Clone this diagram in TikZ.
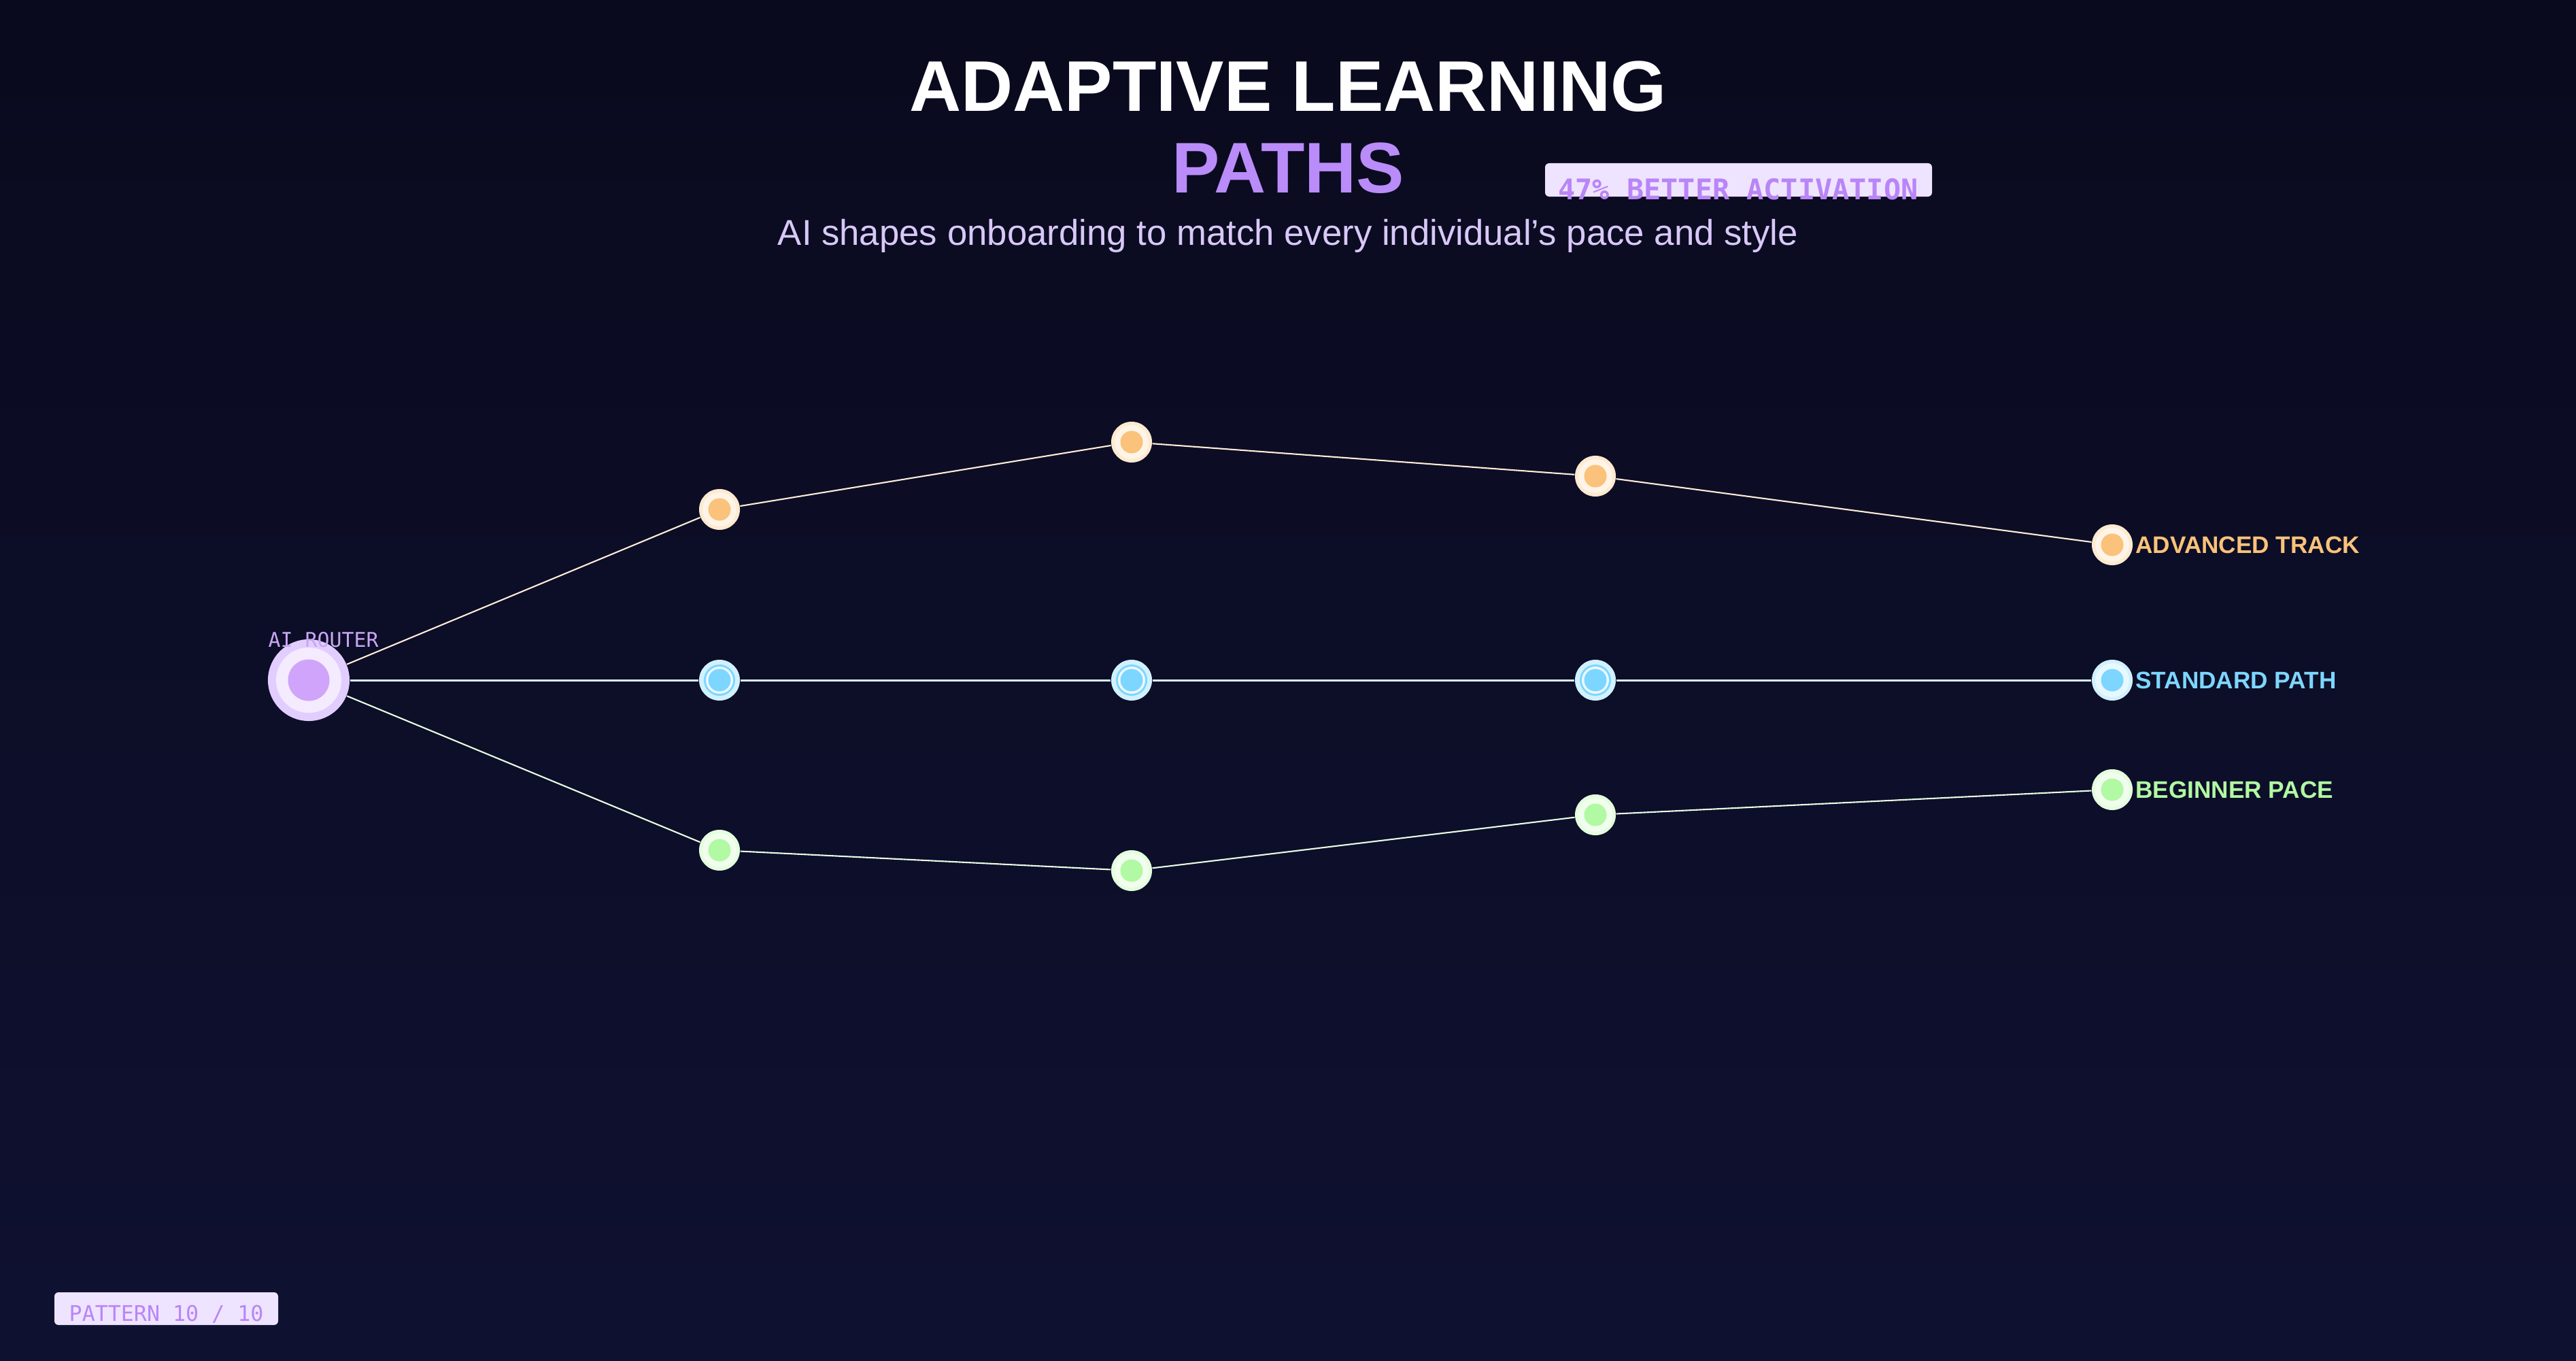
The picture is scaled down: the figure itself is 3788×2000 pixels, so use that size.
\documentclass[tikz,border=0pt]{standalone}
\usepackage{fontspec}
\setmainfont{Liberation Sans}
\newfontfamily\monofont{DejaVu Sans Mono}
\usetikzlibrary{positioning}
\definecolor{nighttop}{HTML}{0A0A1E}
\definecolor{nightbottom}{HTML}{0F1131}
\definecolor{violet}{HTML}{B98CFA}
\definecolor{lilac}{HTML}{D8C8F8}
\definecolor{routerlabel}{HTML}{C8A6F3}
\definecolor{routercore}{HTML}{CFA4FA}
\definecolor{routerring}{HTML}{E2CDFF}
\definecolor{badgefill}{HTML}{EEE4FF}
\definecolor{badgetext}{HTML}{B985F7}
\definecolor{adv}{HTML}{FAC27A}
\definecolor{std}{HTML}{7DD6FF}
\definecolor{beg}{HTML}{B1F9A3}

\begin{document}
\begin{tikzpicture}[x=0.01cm,y=-0.01cm]
	\tikzstyle{stop} = [circle,minimum size=0.6cm,inner sep=0pt,fill=#1!35!white,
		path picture={
			\fill[#1!18!white] (path picture bounding box.center) circle[radius=0.25cm];
			\fill[#1] (path picture bounding box.center) circle[radius=0.165cm];}]
	\tikzstyle{ringstop} = [circle,minimum size=0.6cm,inner sep=0pt,fill=#1!35!white,
		path picture={
			\fill[#1] (path picture bounding box.center) circle[radius=0.23cm];
			\fill[#1!15!white] (path picture bounding box.center) circle[radius=0.2cm];
			\fill[#1] (path picture bounding box.center) circle[radius=0.165cm];}]
	\tikzstyle{trackname} = [inner sep=0pt,font=\bfseries\fontsize{10pt}{12pt}\selectfont]
	\tikzstyle{tag} = [rounded corners=0.06cm,fill=badgefill]

	% Background
	\shade[top color=nighttop,bottom color=nightbottom] (0,0) rectangle (3788,2000);
	\useasboundingbox (0,0) rectangle (3788,2000);

	% Title block
	\node[anchor=base,inner sep=0pt,white] (title) at (1894,163)
		{\bfseries\fontsize{30pt}{32pt}\selectfont ADAPTIVE LEARNING};
	\node[anchor=base,inner sep=0pt,violet] (paths) at (1894,283)
		{\bfseries\fontsize{30pt}{32pt}\selectfont PATHS};
	\fill[tag] (2272,240) rectangle (2841,289);
	\node[anchor=base,inner sep=0pt,badgetext] (gain) at (2556,293)
		{\monofont\bfseries\fontsize{11.9pt}{13pt}\selectfont 47\% BETTER ACTIVATION};
	\node[anchor=base,inner sep=0pt,lilac] (subtitle) at (1894,360)
		{\fontsize{15pt}{17pt}\selectfont AI shapes onboarding to match every individual's pace and style};

	% Router
	\node[circle,minimum size=1.2cm,inner sep=0pt,fill=routerring,
		path picture={
			\fill[routerring!40!white] (path picture bounding box.center) circle[radius=0.48cm];
			\fill[routercore] (path picture bounding box.center) circle[radius=0.305cm];}]
		(router) at (454,1000) {};
	\node[anchor=base west,inner sep=0pt,routerlabel] (routername) at (394,951)
		{\monofont\fontsize{8.5pt}{10pt}\selectfont AI ROUTER};

	% Stops along each track
	\foreach \n/\x/\y in {1/1058/749, 2/1664/650, 3/2346/700, 4/3106/801}
	{
		\node[stop=adv] (a\n) at (\x,\y) {};
	}
	\foreach \n/\x in {1/1058, 2/1664, 3/2346}
	{
		\node[ringstop=std] (s\n) at (\x,1000) {};
	}
	\node[stop=std] (s4) at (3106,1000) {};
	\foreach \n/\x/\y in {1/1058/1250, 2/1664/1280, 3/2346/1198, 4/3106/1161}
	{
		\node[stop=beg] (b\n) at (\x,\y) {};
	}

	% Connectors
	\draw[adv!30!white,line width=0.6pt] (router) -- (a1) -- (a2) -- (a3) -- (a4);
	\draw[std!30!white,line width=0.85pt] (router) -- (s1) -- (s2) -- (s3) -- (s4);
	\draw[beg!30!white,line width=0.6pt] (router) -- (b1) -- (b2) -- (b3) -- (b4);

	% Track names
	\node[trackname,adv,anchor=west,right=0.03cm of a4] (advname) {ADVANCED TRACK};
	\node[trackname,std,anchor=west,right=0.03cm of s4] (stdname) {STANDARD PATH};
	\node[trackname,beg,anchor=west,right=0.03cm of b4] (begname) {BEGINNER PACE};

	% Footer tag
	\fill[tag] (80,1900) rectangle (409,1948);
	\node[anchor=base west,inner sep=0pt,badgetext] (pattern) at (101,1942)
		{\monofont\fontsize{9pt}{10pt}\selectfont PATTERN 10 / 10};
\end{tikzpicture}
\end{document}
